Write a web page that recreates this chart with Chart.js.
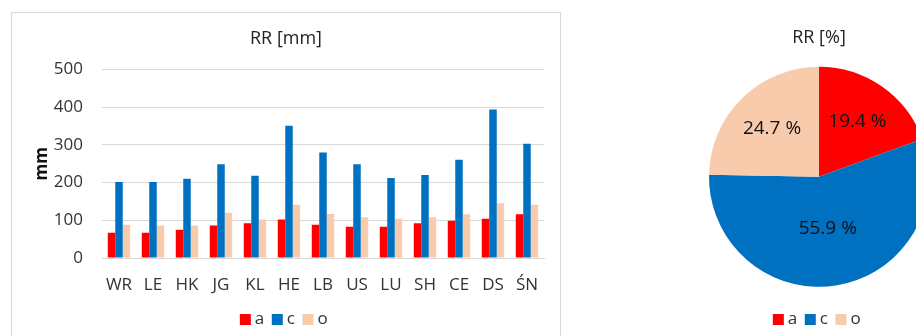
<!DOCTYPE html>
<html>
<head>
<meta charset="utf-8">
<script src="https://cdn.jsdelivr.net/npm/chart.js@4.4.0/dist/chart.umd.min.js"></script>
<style>
  html, body { margin: 0; padding: 0; background: #fff; overflow: hidden; }
  body { width: 916px; height: 336px; position: relative; }
  #barBox { position: absolute; left: 11px; top: 12px; width: 548px; height: 340px; border: 1px solid #d9d9d9; }
  #barBox canvas { position: absolute; left: 0; top: 0; }
  #pieBox { position: absolute; left: 599px; top: 0; width: 440px; height: 338px; }
</style>
</head>
<body>
<div id="barBox"><canvas id="barChart" width="548" height="325"></canvas></div>
<div id="pieBox"><canvas id="pieChart" width="440" height="338"></canvas></div>
<script>
// data
const stations = ["WR", "LE", "HK", "JG", "KL", "HE", "LB", "US", "LU", "SH", "CE", "DS", "ŚN"];
const seriesA = [67, 67, 75, 86, 92, 102, 88, 83, 83, 92, 99, 104, 116];
const seriesC = [202, 202, 210, 249, 218, 351, 280, 249, 212, 220, 261, 394, 303];
const seriesO = [88, 86, 86, 120, 102, 141, 117, 108, 104, 108, 116, 145, 141];
const yTicks = [0, 100, 200, 300, 400, 500];

const pieLabels = ["a", "c", "o"];
const pieShares = [19.4, 55.9, 24.7];

const RED = "#ff0000", BLUE = "#0070c0", PEACH = "#f8cbad";
const FONT = "'Open Sans', 'DejaVu Sans', sans-serif";
const TXT = "#333333";

Chart.defaults.font.family = FONT;
Chart.defaults.color = TXT;

// square legend markers sitting close to their text, like the Excel original
const legendLabels = {
    usePointStyle: true,
    pointStyle: "rect",
    boxWidth: 2,
    boxHeight: 11,
    padding: 12,
    font: { size: 17 },
    color: TXT
};

new Chart(document.getElementById("barChart").getContext("2d"), {
    type: "bar",
    data: {
        labels: stations,
        datasets: [
            { label: "a", data: seriesA, backgroundColor: RED },
            { label: "c", data: seriesC, backgroundColor: BLUE },
            { label: "o", data: seriesO, backgroundColor: PEACH }
        ]
    },
    options: {
        responsive: false,
        animation: false,
        categoryPercentage: 0.66,
        barPercentage: 1.0,
        layout: { padding: { left: 16, right: 16, top: 0, bottom: 0 } },
        plugins: {
            title: {
                display: true,
                text: "RR [mm]",
                color: "#222",
                font: { size: 18, weight: "normal" },
                padding: { top: 15, bottom: 20 }
            },
            legend: { position: "bottom", labels: legendLabels },
            tooltip: { enabled: false }
        },
        scales: {
            x: {
                afterFit: function (axis) { axis.height = 41; },
                grid: { display: false, drawTicks: false },
                border: { color: "#d9d9d9", width: 1 },
                ticks: { padding: 17, font: { size: 17 }, color: TXT }
            },
            y: {
                min: 0,
                max: 500,
                afterBuildTicks: function (axis) { axis.ticks = yTicks.map(v => ({ value: v })); },
                afterFit: function (axis) { axis.width = 74; },
                grid: { color: "#d9d9d9", drawTicks: false },
                border: { display: false },
                ticks: { padding: 19, font: { size: 17 }, color: TXT },
                title: { display: true, text: "mm", color: "#111", font: { size: 17, weight: "bold" }, padding: { top: 4, bottom: 0 } }
            }
        }
    }
});

// percent labels inside the slices
const sliceLabels = {
    id: "sliceLabels",
    afterDatasetsDraw(chart, args, opts) {
        const ctx = chart.ctx;
        const arcs = chart.getDatasetMeta(0).data;
        ctx.save();
        ctx.font = "19px " + FONT;
        ctx.fillStyle = "#111";
        ctx.textAlign = "center";
        ctx.textBaseline = "middle";
        arcs.forEach((arc, i) => {
            const mid = (arc.startAngle + arc.endAngle) / 2;
            const r = arc.outerRadius * opts.radius[i];
            const txt = pieShares[i].toFixed(1) + " %";
            ctx.fillText(txt, arc.x + Math.cos(mid) * r, arc.y + Math.sin(mid) * r);
        });
        ctx.restore();
    }
};

new Chart(document.getElementById("pieChart").getContext("2d"), {
    type: "pie",
    data: {
        labels: pieLabels,
        datasets: [{ data: pieShares, backgroundColor: [RED, BLUE, PEACH], borderWidth: 0, radius: 110 }]
    },
    options: {
        responsive: false,
        animation: false,
        layout: { padding: 0 },
        plugins: {
            title: {
                display: true,
                text: "RR [%]",
                color: "#222",
                font: { size: 18, weight: "normal" },
                padding: { top: 27, bottom: 6 }
            },
            legend: { position: "bottom", labels: legendLabels },
            tooltip: { enabled: false },
            sliceLabels: { radius: [0.61, 0.48, 0.61] }
        }
    },
    plugins: [sliceLabels]
});
</script>
</body>
</html>
